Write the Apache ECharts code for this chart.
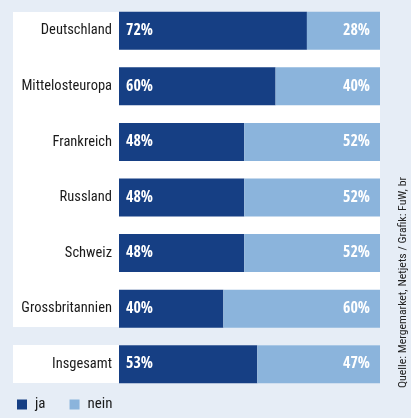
<!DOCTYPE html>
<html>
<head>
<meta charset="utf-8">
<script src="https://cdn.jsdelivr.net/npm/echarts@6/dist/echarts.min.js"></script>
<style>
  html, body { margin: 0; padding: 0; background: #e6edf6; }
  #main { width: 411px; height: 418px; }
</style>
</head>
<body>
<div id="main"></div>
<script>
  var categories = ['Deutschland', 'Mittelosteuropa', 'Frankreich', 'Russland', 'Schweiz', 'Grossbritannien', 'Insgesamt'];
  var jaValues = [72, 60, 48, 48, 48, 40, 53];
  var neinValues = [28, 40, 52, 52, 52, 60, 47];
  var seriesNames = ['ja', 'nein'];
  var sourceText = 'Quelle: Mergemarket, Netjets / Grafik: FuW, br';

  var font = '"Roboto Condensed", "DejaVu Sans Condensed", sans-serif';
  var boldFont = '"Open Sans Condensed", "Roboto Condensed", sans-serif';

  var myChart = echarts.init(document.getElementById('main'));
  myChart.setOption({
    backgroundColor: '#e6edf6',
    animation: false,
    // weisse Flaechen hinter den Balken
    graphic: [
      { type: 'rect', left: 13, top: 12, z: -10, shape: { width: 367, height: 315 }, style: { fill: '#ffffff' } },
      { type: 'rect', left: 13, top: 345, z: -10, shape: { width: 367, height: 38 }, style: { fill: '#ffffff' } },
      {
        type: 'text', x: 397, y: 388, rotation: Math.PI / 2, z: 10,
        style: { text: sourceText, fill: '#222222', font: '11.8px ' + font, textAlign: 'left', textVerticalAlign: 'top' }
      }
    ],
    legend: {
      data: seriesNames,
      left: 12,
      top: 392,
      icon: 'rect',
      itemWidth: 10,
      itemHeight: 10,
      itemGap: 24,
      textStyle: { fontFamily: font, fontSize: 15, color: '#1a1a1a', padding: [0, 0, 0, 3] }
    },
    grid: { left: 119, right: 31, top: 3, height: 389, containLabel: false },
    xAxis: {
      type: 'value',
      min: 0,
      max: 100,
      show: false
    },
    yAxis: {
      type: 'category',
      data: categories,
      inverse: true,
      axisLine: { show: false },
      axisTick: { show: false },
      axisLabel: { margin: 7, fontFamily: font, fontSize: 14.5, color: '#1a1a1a' }
    },
    series: [
      {
        name: 'ja',
        type: 'bar',
        stack: 'total',
        barWidth: 38,
        data: jaValues,
        itemStyle: { color: '#163f84' },
        label: {
          show: true, position: 'insideLeft', distance: 7,
          formatter: '{c}%', color: '#ffffff', fontFamily: boldFont, fontWeight: 'bold', fontSize: 16
        }
      },
      {
        name: 'nein',
        type: 'bar',
        stack: 'total',
        barWidth: 38,
        data: neinValues,
        itemStyle: { color: '#8bb4dc' },
        label: {
          show: true, position: 'insideRight', distance: 10,
          formatter: '{c}%', color: '#ffffff', fontFamily: boldFont, fontWeight: 'bold', fontSize: 16
        }
      }
    ]
  });
</script>
</body>
</html>
